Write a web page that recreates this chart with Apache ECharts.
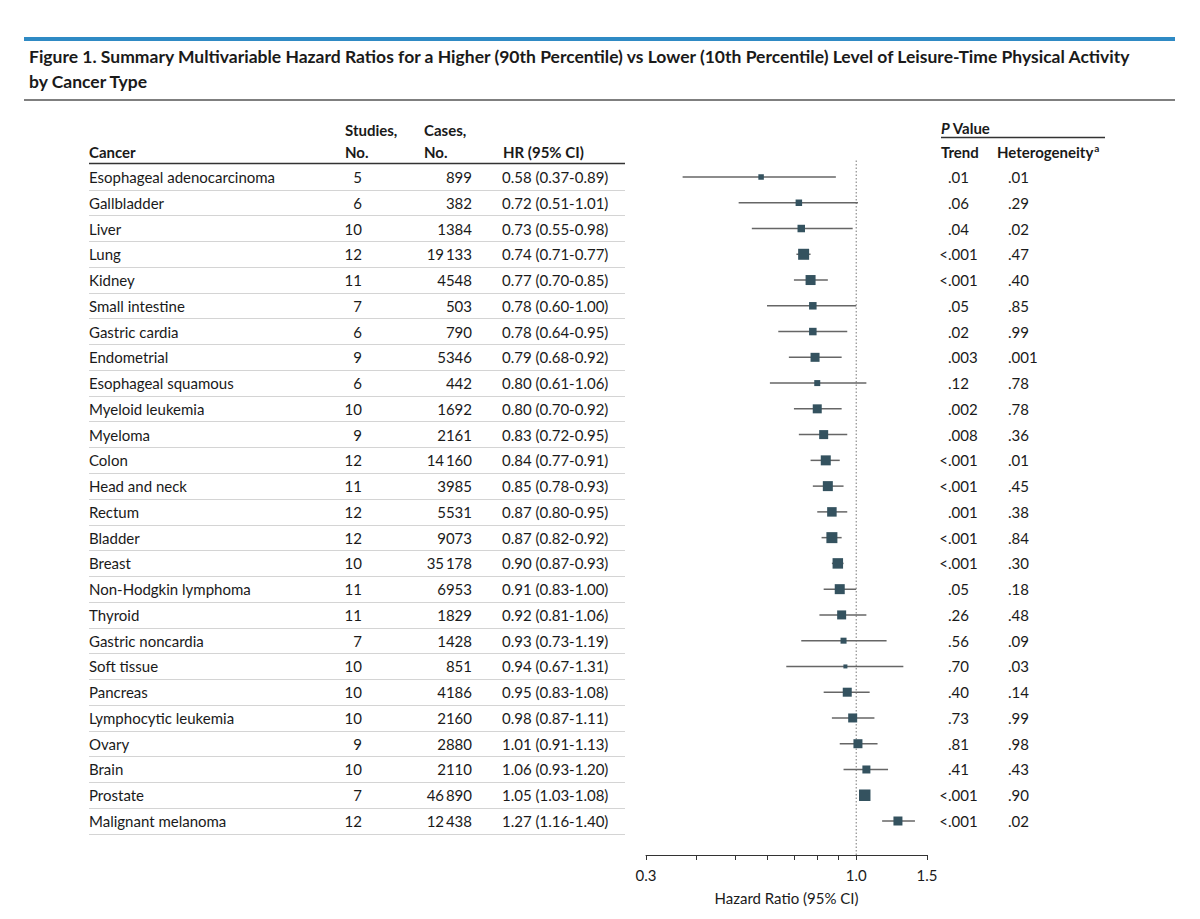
<!DOCTYPE html>
<html>
<head>
<meta charset="utf-8">
<script src="https://cdn.jsdelivr.net/npm/echarts@6/dist/echarts.min.js"></script>
<style>
html,body{margin:0;padding:0;background:#fff;}
#chart{width:1200px;height:919px;}
</style>
</head>
<body>
<div id="chart"></div>
<script>
// ---------- data ----------
const cancers = ['Esophageal adenocarcinoma','Gallbladder','Liver','Lung','Kidney','Small intestine','Gastric cardia','Endometrial','Esophageal squamous','Myeloid leukemia','Myeloma','Colon','Head and neck','Rectum','Bladder','Breast','Non-Hodgkin lymphoma','Thyroid','Gastric noncardia','Soft tissue','Pancreas','Lymphocytic leukemia','Ovary','Brain','Prostate','Malignant melanoma'];
const studies = [5,6,10,12,11,7,6,9,6,10,9,12,11,12,12,10,11,11,7,10,10,10,9,10,7,12];
const cases = [899,382,1384,19133,4548,503,790,5346,442,1692,2161,14160,3985,5531,9073,35178,6953,1829,1428,851,4186,2160,2880,2110,46890,12438];
const hr = [0.58,0.72,0.73,0.74,0.77,0.78,0.78,0.79,0.80,0.80,0.83,0.84,0.85,0.87,0.87,0.90,0.91,0.92,0.93,0.94,0.95,0.98,1.01,1.06,1.05,1.27];
const ciLow = [0.37,0.51,0.55,0.71,0.70,0.60,0.64,0.68,0.61,0.70,0.72,0.77,0.78,0.80,0.82,0.87,0.83,0.81,0.73,0.67,0.83,0.87,0.91,0.93,1.03,1.16];
const ciHigh = [0.89,1.01,0.98,0.77,0.85,1.00,0.95,0.92,1.06,0.92,0.95,0.91,0.93,0.95,0.92,0.93,1.00,1.06,1.19,1.31,1.08,1.11,1.13,1.20,1.08,1.40];
// relative study weight (drives box size)
const boxWeight = [5.5,6.5,7.5,11,10,7.5,7.5,9,6,9,9,10,10,9.5,11,10.5,10,9,6,4,9,9,9,8,11.5,9];
const pTrend = ['.01','.06','.04','<.001','<.001','.05','.02','.003','.12','.002','.008','<.001','<.001','.001','<.001','<.001','.05','.26','.56','.70','.40','.73','.81','.41','<.001','<.001'];
const pHet = ['.01','.29','.02','.47','.40','.85','.99','.001','.78','.78','.36','.01','.45','.38','.84','.30','.18','.48','.09','.03','.14','.99','.98','.43','.90','.02'];
const axisTicks = [0.3,0.4,0.5,0.6,0.7,0.8,0.9,1.0,1.5];
const axisTickLabels = [0.3,1.0,1.5];
const refValue = 1.0;

// ---------- layout ----------
const FONT = 'Lato';
const TXT = '#1a1a1a';
const ROW_H = 25.76;
const GRID_TOP = 164.12;
const GRID_H = ROW_H * cancers.length;
const TABLE_L = 89, TABLE_R = 625;
const PLOT_L = 646, PLOT_R = 927;
const AXIS_Y = 855;

function fmtCases(n){
  const s = String(n);
  if (s.length <= 4) return s;
  return s.slice(0, s.length-3) + '\u2009' + s.slice(s.length-3);
}

const tableGrid = {left: TABLE_L, width: TABLE_R-TABLE_L, top: GRID_TOP, height: GRID_H};
const plotGrid = {left: PLOT_L, width: PLOT_R-PLOT_L, top: GRID_TOP, height: GRID_H};
const axisGrid = {left: PLOT_L, width: PLOT_R-PLOT_L, top: 160, height: AXIS_Y-160};

function labelAxis(grid, position, offset, align, formatter, extra){
  return Object.assign({
    type:'category', gridIndex: grid, position: position, offset: offset, inverse: true,
    data: cancers,
    axisLine:{show:false}, axisTick:{show:false}, splitLine:{show:false},
    axisLabel:{interval:0, margin:0, align: align, fontFamily: FONT, fontSize: 15, color: TXT, formatter: formatter}
  }, extra||{});
}

const yAxes = [
  // 0 table: cancer names + row separators
  labelAxis(0,'left',0,'left',(v,i)=>cancers[i],{
    splitLine:{show:true, interval:(i)=> i>0 && i<cancers.length, lineStyle:{color:'#d4d4d4', width:1}}
  }),
  // 1 studies
  labelAxis(0,'left',TABLE_L-362,'right',(v,i)=>String(studies[i])),
  // 2 cases
  labelAxis(0,'left',TABLE_L-472,'right',(v,i)=>fmtCases(cases[i])),
  // 3 HR (95% CI)
  labelAxis(0,'left',TABLE_L-502,'left',(v,i)=>hr[i].toFixed(2)+' ('+ciLow[i].toFixed(2)+'-'+ciHigh[i].toFixed(2)+')'),
  // 4 plot rows (hidden)
  {type:'category', gridIndex:1, inverse:true, data: cancers, show:false},
  // 5 trend '<' prefix
  labelAxis(1,'right',948-PLOT_R,'right',(v,i)=> pTrend[i].charAt(0)==='<' ? '<' : ''),
  // 6 trend values
  labelAxis(1,'right',948-PLOT_R,'left',(v,i)=> pTrend[i].replace('<','')),
  // 7 heterogeneity
  labelAxis(1,'right',1008-PLOT_R,'left',(v,i)=> pHet[i]),
  // 8 axis grid y (hidden)
  {type:'value', gridIndex:2, min:0, max:1, show:false}
];

const xAxes = [
  {type:'value', gridIndex:0, show:false, min:0, max:1},
  {type:'log', gridIndex:1, show:false, min:0.3, max:1.5, logBase:10},
  {type:'log', gridIndex:2, min:0.3, max:1.5, logBase:10,
   name:'Hazard Ratio (95% CI)', nameLocation:'middle', nameGap:35,
   nameTextStyle:{fontFamily:FONT, fontSize:15, color:TXT},
   axisLine:{show:true, lineStyle:{color:'#333', width:1}},
   axisTick:{show:true, length:5, inside:false, customValues: axisTicks, lineStyle:{color:'#333'}},
   axisLabel:{customValues: axisTickLabels, margin:12, fontFamily:FONT, fontSize:15, color:TXT,
              formatter:(v)=>Number(v).toFixed(1), showMinLabel:true, showMaxLabel:true},
   splitLine:{show:false}, minorTick:{show:false}}
];

const ciSeries = {
  type:'custom', xAxisIndex:1, yAxisIndex:4, z:2,
  data: cancers.map((c,i)=>[ciLow[i], ciHigh[i], i]),
  renderItem: function(params, api){
    const p1 = api.coord([api.value(0), api.value(2)]);
    const p2 = api.coord([api.value(1), api.value(2)]);
    return {type:'line', shape:{x1:p1[0], y1:p1[1], x2:p2[0], y2:p2[1]},
            style:{stroke:'#666', lineWidth:1.5}};
  },
  silent:true
};

const boxSeries = {
  type:'scatter', xAxisIndex:1, yAxisIndex:4, z:3,
  symbol:'rect',
  data: cancers.map((c,i)=>[hr[i], i, boxWeight[i]]),
  itemStyle:{color:'#34525f', opacity:1},
  silent:true
};

const refSeries = {
  type:'line', xAxisIndex:2, yAxisIndex:8, z:1,
  data:[[refValue,0],[refValue,1]], symbol:'none',
  lineStyle:{color:'#777', width:1, type:[1.5,2]}, silent:true
};

const headerStyle = {fontFamily:FONT, fontSize:15, fontWeight:'bold', fill:TXT};
function htext(x,y,text,extra){
  return {type:'text', x:x, y:y, style:Object.assign({text:text, verticalAlign:'middle'}, headerStyle, extra||{})};
}

const graphics = [
  {type:'rect', shape:{x:24, y:37, width:1151, height:4}, style:{fill:'#2f8ac4'}},
  {type:'line', shape:{x1:24, y1:100, x2:1175, y2:100}, style:{stroke:'#555', lineWidth:1.5}},
  htext(TABLE_L,152,'Cancer'),
  htext(345,130,'Studies,'), htext(345,152,'No.'),
  htext(424,130,'Cases,'), htext(424,152,'No.'),
  htext(503,152,'HR (95% CI)'),
  {type:'line', shape:{x1:TABLE_L, y1:163.5, x2:TABLE_R, y2:163.5}, style:{stroke:'#333', lineWidth:1.5}},
  {type:'text', x:941, y:128, style:{verticalAlign:'middle', fontFamily:FONT, fontSize:15, fontWeight:'bold', fill:TXT,
     text:'{i|P} Value', rich:{i:{fontStyle:'italic', fontWeight:'bold', fontFamily:FONT, fontSize:15, fill:TXT}}}},
  {type:'line', shape:{x1:941, y1:137.5, x2:1105, y2:137.5}, style:{stroke:'#333', lineWidth:1.5}},
  htext(941,152,'Trend'),
  {type:'text', x:997, y:152, style:{verticalAlign:'middle', fontFamily:FONT, fontSize:15, fontWeight:'bold', fill:TXT,
     text:'Heterogeneity{s|a}', rich:{s:{fontSize:10, fontWeight:'bold', fontFamily:FONT, fill:TXT, verticalAlign:'top', padding:[0,0,8,1]}}}}
];

const chart = echarts.init(document.getElementById('chart'), null, {renderer:'svg'});
chart.setOption({
  animation:false,
  backgroundColor:'#fff',
  title:{
    text:'Figure 1. Summary Multivariable Hazard Ratios for a Higher (90th Percentile) vs Lower (10th Percentile) Level of Leisure-Time Physical Activity\nby Cancer Type',
    left:24, top:39,
    textStyle:{fontFamily:FONT, fontSize:17.5, fontWeight:'bold', color:'#1a1a1a', lineHeight:25}
  },
  grid:[tableGrid, plotGrid, axisGrid],
  xAxis:xAxes,
  yAxis:yAxes,
  visualMap:{show:false, type:'continuous', seriesIndex:1, dimension:2, min:0, max:12, inRange:{symbolSize:[0,12]}},
  series:[ciSeries, boxSeries, refSeries],
  graphic:graphics
});
</script>
</body>
</html>
